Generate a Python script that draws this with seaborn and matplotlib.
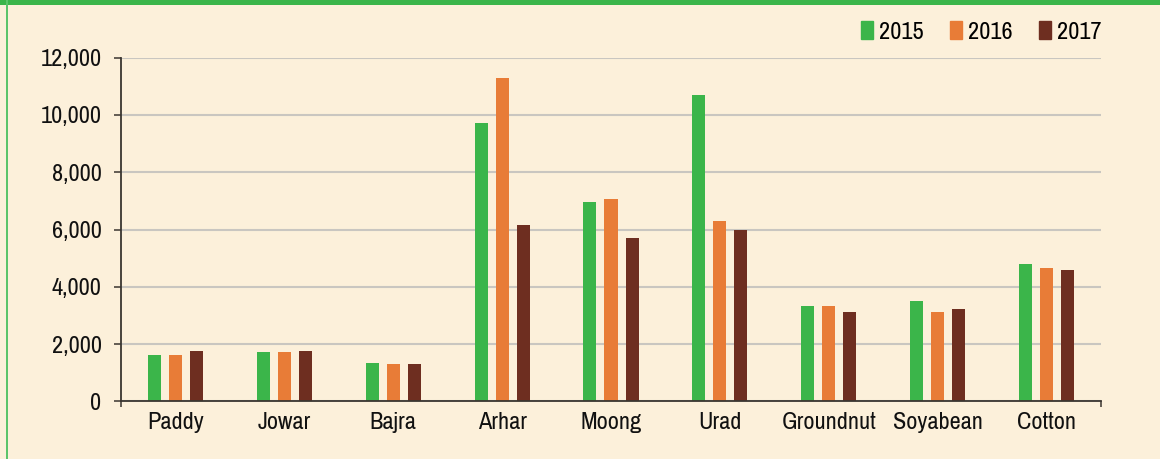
import seaborn as sns
import matplotlib.pyplot as plt
import matplotlib.patches as mpatches
from matplotlib import font_manager
from matplotlib.ticker import FuncFormatter, FixedLocator
import pandas as pd
import numpy as np

crops = ["Paddy", "Jowar", "Bajra", "Arhar", "Moong", "Urad", "Groundnut", "Soyabean", "Cotton"]
years = ["2015", "2016", "2017"]
v2015 = [1610, 1720, 1330, 9720, 6960, 10700, 3330, 3500, 4790]
v2016 = [1610, 1720, 1300, 11290, 7060, 6290, 3330, 3120, 4650]
v2017 = [1750, 1750, 1300, 6150, 5700, 5980, 3120, 3220, 4580]
colors = ["#3bb54a", "#e87c37", "#6e2e20"]
bg = "#fcf0da"

df = pd.DataFrame({
    "crop": crops * 3,
    "year": [y for y in years for _ in crops],
    "value": v2015 + v2016 + v2017,
})

# pick a narrow face if one is around
fams = [f for f in font_manager.fontManager.ttflist]
narrow = [f.name for f in fams if "Narrow" in f.name or "Condensed" in f.name]
cond = [f.name for f in fams if f.stretch in ("condensed", "semi-condensed")]
if narrow:
    plt.rcParams["font.family"] = [narrow[0], "DejaVu Sans"]
elif cond:
    plt.rcParams["font.family"] = [cond[0], "DejaVu Sans"]
    plt.rcParams["font.stretch"] = "condensed"
else:
    plt.rcParams["font.family"] = ["Roboto", "DejaVu Sans"]
fs = 17.5 if (narrow or cond) else 14
px = fs * 100 / 72  # font size in pixels

fig = plt.figure(figsize=(11.6, 4.59), dpi=100, facecolor=bg)
ax = fig.add_axes([121 / 1160, 1 - 401.3 / 459, 980 / 1160, 343.6 / 459])
ax.set_facecolor(bg)

sns.barplot(data=df, x="crop", y="value", hue="year", hue_order=years, order=crops,
            palette=colors, width=0.58, gap=0.38, saturation=1, legend=False, ax=ax)

ax.set_xlim(-0.5, len(crops) - 0.5)
ax.set_ylim(0, 12000)
ax.set_yticks(np.arange(0, 12001, 2000))
ax.yaxis.set_major_formatter(FuncFormatter(lambda v, p: f"{int(v):,}"))
ax.grid(axis="y", color="#c9c6c0", linewidth=1.5)
ax.set_axisbelow(True)
ax.set_xlabel("")
ax.set_ylabel("")

for s in ["top", "right"]:
    ax.spines[s].set_visible(False)
for s in ["left", "bottom"]:
    ax.spines[s].set_color("#3a3530")
    ax.spines[s].set_linewidth(1.3)

ax.tick_params(axis="y", length=5, width=1.1, color="#3a3530", pad=9, labelsize=fs, labelcolor="#111111")
ax.tick_params(axis="x", which="major", length=0, pad=8, labelsize=fs, labelcolor="#111111")
# only the two end ticks on the category axis
ax.xaxis.set_minor_locator(FixedLocator([-0.5, len(crops) - 0.5]))
ax.tick_params(axis="x", which="minor", length=4.5, width=1.1, color="#3a3530")

handles = [mpatches.Patch(color=c, label=y) for c, y in zip(colors, years)]
fig.legend(handles=handles, loc="center right", bbox_to_anchor=(1101 / 1160, 1 - 32 / 459),
           ncol=3, frameon=False, fontsize=fs, handlelength=12 / px, handleheight=18 / px,
           handletextpad=6 / px, columnspacing=26 / px, borderpad=0, borderaxespad=0)

# green frame bits
fig.add_artist(plt.Rectangle((0, 1 - 5 / 459), 1, 5 / 459, transform=fig.transFigure,
                             color="#3bb54a", lw=0))
fig.add_artist(plt.Rectangle((6 / 1160, 0), 1.5 / 1160, 1, transform=fig.transFigure,
                             color="#5cc46a", lw=0))

fig.savefig("out.png", dpi=100, facecolor=bg)
